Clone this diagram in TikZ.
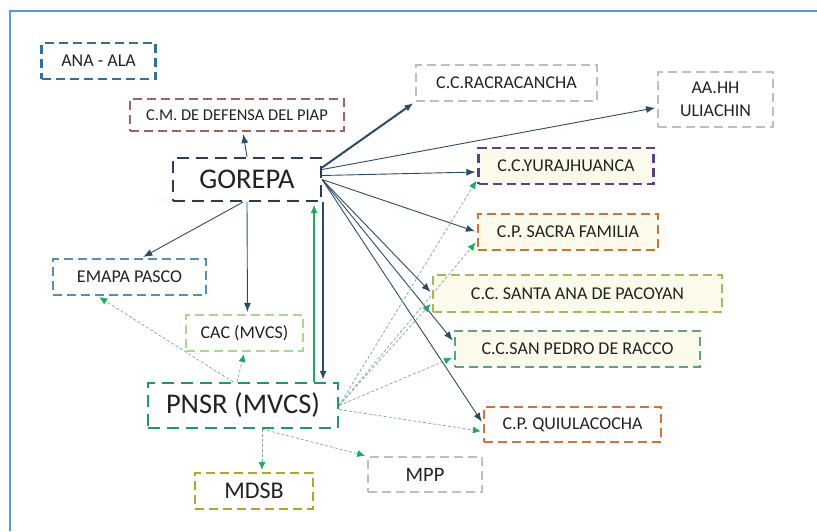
\documentclass[tikz,border=0pt]{standalone}
\usepackage{fontspec}
\setmainfont{Carlito}
\usetikzlibrary{arrows.meta,positioning}

\definecolor{framecol}{HTML}{5B9BD5}
\definecolor{txt}{HTML}{222222}
\definecolor{navy}{HTML}{2B4B66}
\definecolor{linkteal}{HTML}{7FA3A8}
\definecolor{tipgreen}{HTML}{1DAA5C}
\definecolor{creamfill}{HTML}{FCFAEA}
\definecolor{anablue}{HTML}{30709A}
\definecolor{cmred}{HTML}{A0625C}
\definecolor{gorepablue}{HTML}{243F56}
\definecolor{lightgray}{HTML}{BEBEBE}
\definecolor{yurapurple}{HTML}{5C4087}
\definecolor{sacraorange}{HTML}{C97630}
\definecolor{santagreen}{HTML}{9DBD5C}
\definecolor{pedroteal}{HTML}{619F88}
\definecolor{quiulaorange}{HTML}{D3703F}
\definecolor{mdsbolive}{HTML}{B9A22A}
\definecolor{pnsrgreen}{HTML}{1F9A66}
\definecolor{cacgreen}{HTML}{A9D891}
\definecolor{emapablue}{HTML}{5390B8}

\begin{document}
\begin{tikzpicture}[x=1pt, y=-1pt, >={Latex[length=9pt,width=7pt]}, semithick,
    box/.style={draw, dash pattern=on 9pt off 5pt, line width=2.2pt, inner sep=0pt, align=center,
                text=txt, font=\fontsize{18}{23}\selectfont},
    graybox/.style={box, draw=lightgray, line width=1.8pt},
    cream/.style={box, fill=creamfill},
    link/.style={->, navy, line width=0.9pt, shorten >=2pt},
    dotlink/.style={-{Latex[length=8pt,width=7pt,color=tipgreen]}, linkteal, line width=0.7pt,
                    dash pattern=on 3pt off 2pt, shorten >=2pt}]
    \useasboundingbox (0,0) rectangle (817,531);
    \draw[framecol, line width=1.8pt] (10,531) -- (10,11) -- (817,11);

    \node[box, draw=anablue, minimum width=114pt, minimum height=36pt]          (ana)      at (98.5,61)    {ANA - ALA};
    \node[box, draw=cmred, minimum width=214pt, minimum height=32pt,
          font=\fontsize{16.5}{18}\selectfont]                                  (cmdef)    at (237,115)    {C.M. DE DEFENSA DEL PIAP};
    \node[box, draw=gorepablue, minimum width=148pt, minimum height=43pt,
          dash pattern=on 12pt off 7pt, font=\fontsize{28.5}{30}\selectfont]    (gorepa)   at (247,179.5)  {GOREPA};
    \node[graybox, minimum width=181pt, minimum height=36pt]                    (racra)    at (506.5,83)   {C.C.RACRACANCHA};
    \node[graybox, minimum width=115pt, minimum height=55pt]                    (aahh)     at (715.5,99.5) {AA.HH\\ULIACHIN};
    \node[cream, draw=yurapurple, minimum width=175pt, minimum height=36pt]     (yura)     at (566,166)    {C.C.YURAJHUANCA};
    \node[cream, draw=sacraorange, minimum width=180pt, minimum height=36pt]    (sacra)    at (568,232)    {C.P. SACRA FAMILIA};
    \node[cream, draw=santagreen, minimum width=289pt, minimum height=37pt]     (santana)  at (577.5,293.5) {C.C. SANTA ANA DE PACOYAN};
    \node[cream, draw=pedroteal, minimum width=245pt, minimum height=36pt]      (sanpedro) at (577.5,349)  {C.C.SAN PEDRO DE RACCO};
    \node[box, draw=quiulaorange, minimum width=177pt, minimum height=35pt]     (quiula)   at (572.5,424.5) {C.P. QUIULACOCHA};
    \node[graybox, minimum width=114pt, minimum height=35pt,
          font=\fontsize{20.5}{22}\selectfont]                                  (mpp)      at (425,474.5)  {MPP};
    \node[box, draw=mdsbolive, minimum width=118pt, minimum height=36pt,
          font=\fontsize{24}{26}\selectfont]                                    (mdsb)     at (254,491)    {MDSB};
    \node[box, draw=pnsrgreen, minimum width=190pt, minimum height=45pt,
          dash pattern=on 12pt off 7pt, font=\fontsize{28.5}{30}\selectfont]    (pnsr)     at (243,405.5)  {PNSR (MVCS)};
    \node[box, draw=cacgreen, minimum width=117pt, minimum height=36pt]         (cac)      at (244.5,333)  {CAC (MVCS)};
    \node[box, draw=emapablue, minimum width=153pt, minimum height=36pt]        (emapa)    at (129.5,277)  {EMAPA PASCO};

    \path[link] (gorepa.north)                 edge                              ([xshift=6pt]cmdef.south)
                ([xshift=-4pt]gorepa.south)    edge                              ([xshift=12pt]emapa.north)
                (gorepa.south)                 edge                              ([xshift=3pt]cac.north)
                ([yshift=12pt]gorepa.east)     edge [line width=2pt]             (racra.south west)
                ([yshift=10pt]gorepa.east)     edge                              ([yshift=-8pt]aahh.west)
                ([yshift=4pt]gorepa.east)      edge                              ([yshift=-6pt]yura.west)
                (gorepa.east)                  edge                              (sacra.west)
                                               edge                              (santana.west)
                                               edge                              ([yshift=7pt]sanpedro.west)
                                               edge                              ([yshift=1pt]quiula.west)
                ([xshift=1pt]gorepa.south east) edge [line width=2pt]            ([xshift=-16pt]pnsr.north east)
                ([xshift=-25pt]pnsr.north east) edge [line width=2pt, tipgreen]  ([xshift=-8pt]gorepa.south east);

    \path[dotlink] ([xshift=-10pt]pnsr.north)  edge                              ([xshift=-32pt]emapa.south)
                   ([xshift=-6pt]pnsr.north)   edge                              (cac.south)
                   ([xshift=19pt]pnsr.south)   edge                              ([xshift=8pt]mdsb.north)
                                               edge                              (mpp.north west)
                   (pnsr.east)                 edge                              ([yshift=-13pt]yura.west)
                                               edge                              ([yshift=-9pt]sacra.west)
                                               edge                              ([yshift=-9pt]santana.west)
                                               edge                              ([yshift=-8pt]sanpedro.west)
                   ([yshift=-4pt]pnsr.east)    edge                              ([yshift=-7pt]quiula.west);
\end{tikzpicture}
\end{document}
